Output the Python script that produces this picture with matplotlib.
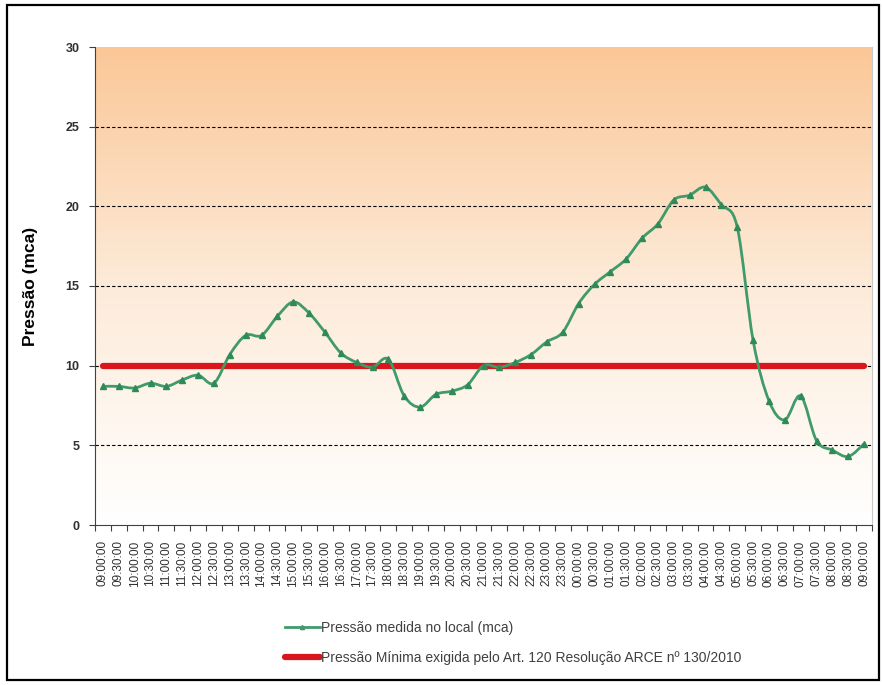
import numpy as np
import matplotlib
matplotlib.use('Agg')
import matplotlib.pyplot as plt
from matplotlib.path import Path
from matplotlib.patches import PathPatch
from matplotlib.lines import Line2D
from matplotlib.colors import LinearSegmentedColormap

plt.rcParams['font.family'] = ['Liberation Sans', 'DejaVu Sans']

# horarios de leitura (meia em meia hora, 09:00 ate 09:00 do dia seguinte)
hours = [9, 9, 10, 10, 11, 11, 12, 12, 13, 13, 14, 14, 15, 15, 16, 16, 17, 17,
         18, 18, 19, 19, 20, 20, 21, 21, 22, 22, 23, 23, 0, 0, 1, 1, 2, 2, 3, 3,
         4, 4, 5, 5, 6, 6, 7, 7, 8, 8, 9]
minutes = [0, 30] * 24 + [0]
labels = [f'{h:02d}:{m:02d}:00' for h, m in zip(hours, minutes)]

pressao = [8.7, 8.7, 8.6, 8.9, 8.7, 9.1, 9.4, 8.9, 10.7, 11.9, 11.9, 13.1,
           14.0, 13.3, 12.1, 10.8, 10.2, 9.9, 10.4, 8.1, 7.4, 8.2, 8.4, 8.8,
           10.0, 9.9, 10.2, 10.7, 11.5, 12.1, 13.9, 15.1, 15.9, 16.7, 18.0,
           18.9, 20.4, 20.7, 21.2, 20.1, 18.7, 11.6, 7.8, 6.6, 8.1, 5.3, 4.7,
           4.3, 5.1]
pressao_min = 10

GREEN = '#409a6a'
RED = '#d9161c'

fig = plt.figure(figsize=(8.82, 6.85), dpi=100)
ax = fig.add_axes([95/882, 1-525/685, 777/882, 478/685])

# fundo em degrade (laranja -> branco)
cmap = LinearSegmentedColormap.from_list('bg', ['#ffffff', '#fdebd9', '#fbc797'])
ax.imshow(np.linspace(0, 1, 256).reshape(-1, 1), cmap=cmap, aspect='auto',
          extent=[0, 1, 0, 1], transform=ax.transAxes, origin='lower', zorder=0)

x = np.arange(len(pressao))
y = np.array(pressao, dtype=float)

# linha suavizada (bezier estilo Excel)
verts = [(x[0], y[0])]
codes = [Path.MOVETO]
n = len(x)
for i in range(n - 1):
    p0 = np.array([x[max(i-1, 0)], y[max(i-1, 0)]])
    p1 = np.array([x[i], y[i]])
    p2 = np.array([x[i+1], y[i+1]])
    p3 = np.array([x[min(i+2, n-1)], y[min(i+2, n-1)]])
    c1 = p1 + (p2 - p0) / 6
    c2 = p2 - (p3 - p1) / 6
    verts += [tuple(c1), tuple(c2), tuple(p2)]
    codes += [Path.CURVE4] * 3
ax.add_patch(PathPatch(Path(verts, codes), facecolor='none', edgecolor=GREEN,
                       lw=2.0, zorder=4))
ax.plot(x, y, ls='none', marker='^', ms=4, color='#2f8a58', zorder=5)

ax.plot([x[0], x[-1]], [pressao_min, pressao_min], color=RED, lw=4.5,
        solid_capstyle='round', zorder=3)

ax.set_xlim(-0.5, n - 0.5)
ax.set_ylim(0, 30)
ax.set_yticks(range(0, 31, 5))
for v in range(5, 30, 5):
    ax.axhline(v, color='black', ls=(0, (3, 2)), lw=0.8, zorder=2)

ax.set_xticks(x)
ax.set_xticklabels(labels, rotation=90, fontsize=8.5, color='#303030')
ax.set_xticks(np.arange(-0.5, n, 1), minor=True)
ax.tick_params(axis='x', which='major', length=0, pad=11)
ax.tick_params(axis='x', which='minor', length=4, color='#404040', width=0.8)
ax.tick_params(axis='y', length=4, color='#404040', width=0.8, pad=7)
for lab in ax.get_yticklabels():
    lab.set_fontweight('bold')
    lab.set_fontsize(9)
    lab.set_color('#303030')

ax.spines['top'].set_visible(False)
ax.spines['right'].set_color('#c8c8c8')
ax.spines['left'].set_color('#404040')
ax.spines['bottom'].set_color('#404040')

ax.set_ylabel('Pressão (mca)', fontsize=12.5, fontweight='bold', labelpad=20)

handles = [Line2D([], [], color=GREEN, lw=2.0, marker='^', ms=3, markevery=[1]),
           Line2D([], [], color=RED, lw=4.5, solid_capstyle='round')]
fig.legend(handles, ['Pressão medida no local (mca)',
                     'Pressão Mínima exigida pelo Art. 120 Resolução ARCE nº 130/2010'],
           loc='center left', bbox_to_anchor=(278/882, 1-643/685), frameon=False,
           fontsize=10, handlelength=2.5, handletextpad=0.1, labelspacing=1.2,
           borderpad=0, labelcolor='#404040')

# moldura
fig.add_artist(plt.Rectangle((7/882, 5/685), 872/882, 675/685, fill=False,
                             edgecolor='black', lw=1.6, transform=fig.transFigure))

fig.savefig('out.png', dpi=100)
